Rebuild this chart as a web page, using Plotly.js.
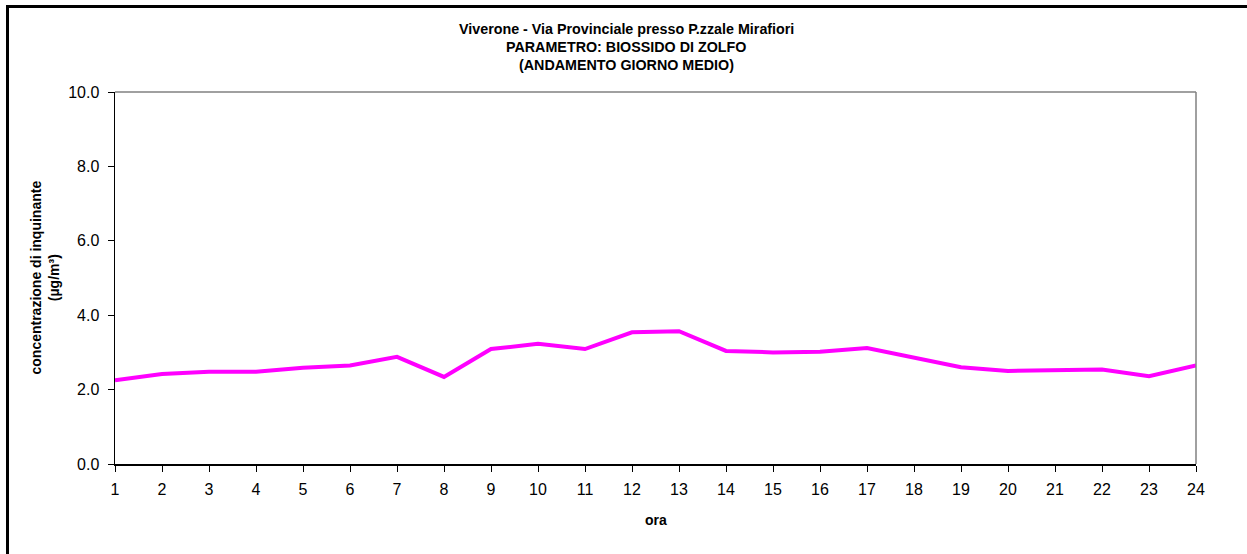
<!DOCTYPE html>
<html>
<head>
<meta charset="utf-8">
<script src="https://cdn.plot.ly/plotly-3.0.1.min.js"></script>
<style>html,body{margin:0;padding:0;background:#fff;}#chart{width:1247px;height:554px;}</style>
</head>
<body>
<div id="chart"></div>
<script>
var hours = [1,2,3,4,5,6,7,8,9,10,11,12,13,14,15,16,17,18,19,20,21,22,23,24];
var so2 = [2.25,2.42,2.48,2.48,2.59,2.65,2.88,2.34,3.09,3.23,3.09,3.54,3.57,3.04,3.00,3.02,3.12,2.85,2.60,2.50,2.51,2.54,2.36,2.65];
var yTicks = [0,2,4,6,8,10];
var yTickText = ['0.0','2.0','4.0','6.0','8.0','10.0'];
var titleLines = ['Viverone - Via Provinciale presso P.zzale Mirafiori','PARAMETRO: BIOSSIDO DI ZOLFO','(ANDAMENTO GIORNO MEDIO)'];
var yTitle = ['concentrazione di inquinante','(µg/m³)'];
var xTitle = 'ora';

function py(p){ return (464 - p) / 372; }
function px(p){ return (p - 115) / 1081; }

var trace = {
  x: hours, y: so2, type: 'scatter', mode: 'lines',
  line: {color: '#FF00FF', width: 4},
  hoverinfo: 'x+y'
};

var titlePix = [29, 47, 65];
var titleAnns = titleLines.map(function(t, i){
  return {text: t, xref: 'paper', yref: 'paper', x: px(626), y: py(titlePix[i]),
    xanchor: 'center', yanchor: 'middle', showarrow: false,
    font: {size: 14.3, color: '#000', weight: 'bold'}};
});

var layout = {
  width: 1247, height: 554,
  margin: {l: 115, r: 51, t: 92, b: 90},
  paper_bgcolor: '#ffffff', plot_bgcolor: '#ffffff',
  showlegend: false,
  font: {family: 'Arial, Liberation Sans, sans-serif', color: '#000'},
  xaxis: {
    range: [1, 24], tickmode: 'array', tickvals: hours, ticktext: hours.map(String),
    showgrid: false, zeroline: false, showline: true, linecolor: '#000', linewidth: 1.5,
    ticks: 'outside', ticklen: 6, tickcolor: '#000', tickwidth: 1,
    tickfont: {size: 16, color: '#000'}, ticklabelstandoff: 4
  },
  yaxis: {
    range: [0, 10], tickmode: 'array', tickvals: yTicks, ticktext: yTickText,
    showgrid: false, zeroline: false, showline: true, linecolor: '#000', linewidth: 1.5,
    ticks: 'outside', ticklen: 6, tickcolor: '#000', tickwidth: 1,
    tickfont: {size: 16, color: '#000'}, ticklabelstandoff: 5
  },
  shapes: [
    {type: 'line', xref: 'paper', yref: 'paper', x0: 0, x1: 1, y0: 1, y1: 1, line: {color: '#808080', width: 1.5}},
    {type: 'line', xref: 'paper', yref: 'paper', x0: 1, x1: 1, y0: 0, y1: 1, line: {color: '#808080', width: 1.5}},
    {type: 'line', xref: 'paper', yref: 'paper', x0: px(6), x1: px(1247), y0: py(6.5), y1: py(6.5), line: {color: '#000', width: 3}},
    {type: 'line', xref: 'paper', yref: 'paper', x0: px(7.5), x1: px(7.5), y0: py(5), y1: py(554), line: {color: '#000', width: 3}}
  ],
  annotations: titleAnns.concat([
    {text: yTitle.join('<br>'), xref: 'paper', yref: 'paper', x: px(44.5), y: 0.5, xanchor: 'center', yanchor: 'middle',
     textangle: -90, showarrow: false, font: {size: 14, color: '#000', weight: 'bold'}},
    {text: xTitle, xref: 'paper', yref: 'paper', x: 0.5, y: py(520), xanchor: 'center', yanchor: 'middle',
     showarrow: false, font: {size: 14, color: '#000', weight: 'bold'}}
  ])
};

Plotly.newPlot('chart', [trace], layout, {displayModeBar: false, staticPlot: true});
</script>
</body>
</html>
